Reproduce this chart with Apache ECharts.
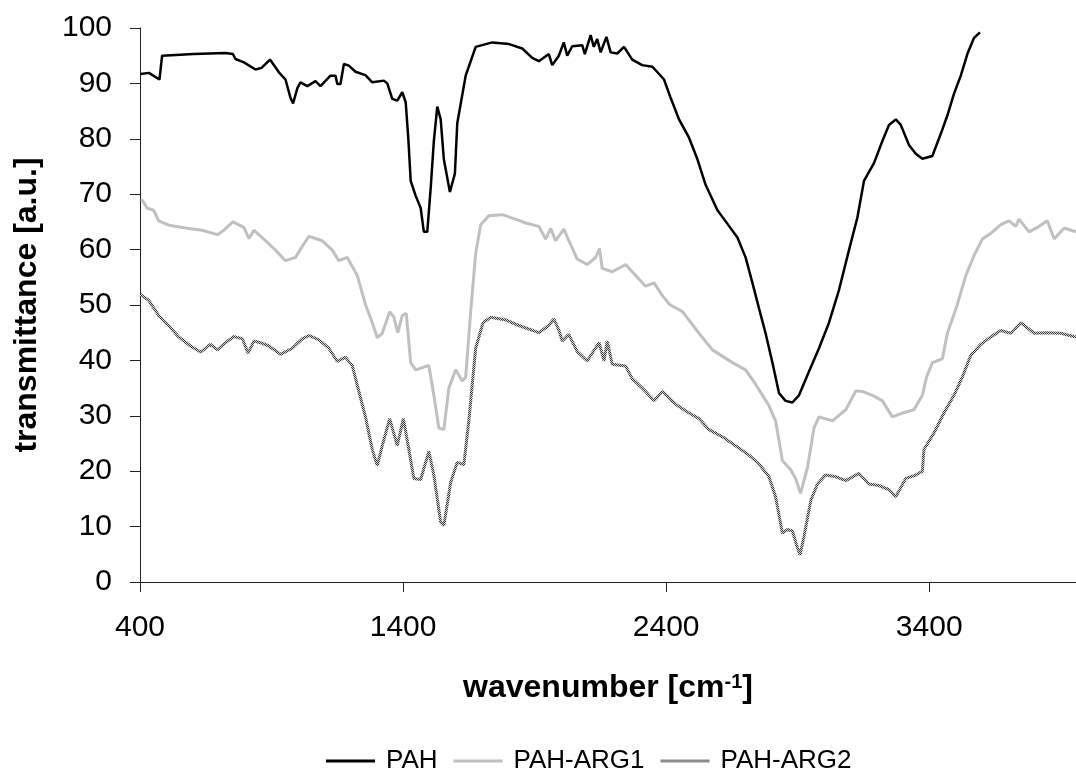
<!DOCTYPE html>
<html>
<head>
<meta charset="utf-8">
<script src="https://cdn.jsdelivr.net/npm/echarts@6/dist/echarts.min.js"></script>
<style>
html,body{margin:0;padding:0;background:#fff;}
#chart{width:1076px;height:775px;}
</style>
</head>
<body>
<div id="chart"></div>
<script>
// ---- data ----
const seriesNames = ['PAH', 'PAH-ARG1', 'PAH-ARG2'];
const xTickValues = [400, 1400, 2400, 3400];

const pahX = [402,434,474,484,604,725,753,763,795,839,862,894,928,953,972,982,998,1010,1036,1067,1086,1124,1143,1150,1162,1175,1194,1219,1257,1283,1327,1340,1359,1378,1397,1410,1420,1429,1448,1467,1479,1492,1505,1517,1530,1543,1555,1578,1597,1606,1638,1676,1739,1803,1853,1891,1916,1954,1967,1992,2011,2024,2043,2081,2091,2113,2125,2138,2151,2173,2189,2214,2240,2271,2309,2348,2392,2417,2449,2487,2519,2550,2595,2620,2671,2702,2728,2753,2778,2804,2829,2854,2880,2905,2943,2981,3019,3057,3095,3127,3152,3190,3222,3247,3273,3292,3323,3349,3374,3412,3444,3469,3494,3520,3545,3570,3593];
const pahY = [91.7,91.9,90.7,95.0,95.3,95.5,95.3,94.4,93.8,92.5,92.8,94.3,92.0,90.7,87.4,86.4,89.1,90.2,89.5,90.4,89.5,91.4,91.4,89.9,89.9,93.5,93.2,92.1,91.5,90.2,90.5,90.0,87.2,86.9,88.4,86.6,80.0,72.4,69.7,67.5,63.2,63.2,71.1,79.6,85.8,83.5,76.3,70.4,73.7,82.8,91.4,96.6,97.4,97.1,96.3,94.6,94.0,95.3,93.3,95.0,97.4,95.0,96.7,96.9,95.3,98.7,96.6,98.0,95.6,98.4,95.6,95.4,96.6,94.3,93.3,93.0,90.7,87.4,83.5,80.2,76.3,71.7,67.1,65.5,62.2,58.6,54.0,49.4,44.9,39.6,34.1,32.7,32.4,33.7,38.0,42.2,46.8,52.7,59.9,65.8,72.4,75.6,79.6,82.5,83.5,82.5,78.9,77.3,76.4,76.9,80.9,84.2,88.1,91.4,95.3,98.2,99.2];

const arg1X = [406,427,452,471,510,573,636,694,719,753,795,814,833,877,915,953,991,1017,1042,1093,1131,1156,1188,1226,1257,1283,1302,1321,1349,1365,1380,1397,1412,1429,1448,1498,1517,1536,1555,1574,1600,1625,1638,1657,1676,1695,1726,1777,1827,1866,1916,1942,1961,1980,2011,2037,2062,2100,2132,2147,2157,2195,2246,2271,2322,2354,2386,2413,2462,2525,2576,2652,2702,2740,2791,2816,2842,2873,2892,2911,2937,2962,2981,3032,3083,3121,3146,3184,3222,3260,3298,3342,3374,3390,3412,3450,3469,3507,3539,3570,3602,3633,3672,3703,3729,3741,3780,3811,3849,3875,3913,3958];
const arg1Y = [69.1,67.5,67.1,65.2,64.4,63.9,63.5,62.7,63.5,65.0,64.0,62.0,63.5,61.6,59.9,58.0,58.6,60.6,62.4,61.6,59.9,58.0,58.6,55.3,50.1,46.8,44.1,44.9,48.8,47.8,45.0,48.1,48.5,39.6,38.3,39.1,33.7,27.8,27.5,35.0,38.3,36.3,37.0,48.8,59.3,64.5,66.1,66.3,65.5,64.8,64.2,61.9,63.8,61.6,63.7,60.9,58.3,57.3,58.6,60.2,56.6,56.0,57.3,56.0,53.4,54.0,51.7,50.1,48.8,44.9,41.9,39.6,38.3,35.7,31.8,29.1,21.9,20.3,18.7,16.0,20.6,27.8,29.8,29.1,31.1,34.5,34.4,33.7,32.7,29.8,30.5,31.1,33.7,37.0,39.6,40.3,44.9,50.1,55.3,58.9,61.9,62.9,64.5,65.2,64.2,65.5,63.2,64.0,65.2,61.9,63.9,63.2];

const arg2X = [402,434,471,510,548,592,630,668,694,725,757,789,811,833,858,890,934,979,1017,1042,1080,1118,1150,1181,1207,1232,1257,1283,1302,1321,1349,1378,1401,1422,1441,1467,1498,1517,1543,1555,1581,1606,1631,1650,1676,1704,1733,1790,1840,1916,1954,1973,1992,2005,2030,2062,2100,2145,2164,2176,2195,2246,2271,2322,2354,2386,2436,2487,2525,2563,2614,2664,2715,2753,2791,2816,2842,2861,2880,2899,2909,2924,2950,2975,3006,3045,3083,3133,3171,3209,3247,3273,3311,3349,3374,3380,3418,3456,3494,3526,3558,3596,3633,3672,3710,3748,3799,3849,3900,3958];
const arg2Y = [51.9,50.8,48.1,46.2,44.2,42.6,41.5,42.9,41.9,43.2,44.3,43.9,41.3,43.5,43.2,42.6,41.1,42.2,43.9,44.5,43.7,42.2,39.8,40.6,39.0,34.4,29.8,23.9,21.0,24.6,29.5,24.6,29.5,23.9,18.7,18.5,23.6,19.3,10.8,10.2,18.0,21.6,21.2,29.1,42.2,46.8,47.8,47.3,46.3,45.0,46.3,47.5,45.5,43.5,44.7,41.6,39.9,43.2,39.9,43.5,39.3,39.0,36.7,34.4,32.7,34.4,32.1,30.5,29.5,27.5,26.2,24.6,22.9,21.3,19.0,15.4,8.8,9.5,9.2,6.2,4.9,8.2,14.7,17.7,19.3,19.0,18.3,19.6,17.7,17.4,16.7,15.4,18.7,19.3,20.0,23.9,26.9,30.5,33.7,37.0,40.9,42.9,44.2,45.4,44.9,46.8,44.9,45.0,44.9,44.2];

function zip(xs, ys) { return xs.map((x, i) => [x, ys[i]]); }

function hatch() {
  const c = document.createElement('canvas');
  c.width = 2; c.height = 2;
  const g = c.getContext('2d');
  g.fillStyle = '#d4d4d4'; g.fillRect(0, 0, 2, 2);
  g.fillStyle = '#3a3a3a'; g.fillRect(0, 0, 1, 1); g.fillRect(1, 1, 1, 1);
  return c;
}

const FONT = "'Liberation Sans', Arial, sans-serif";
const chart = echarts.init(document.getElementById('chart'), null, {renderer: 'canvas'});

chart.setOption({
  animation: false,
  backgroundColor: '#ffffff',
  textStyle: {fontFamily: FONT},
  grid: {left: 140, right: 0, top: 28, bottom: 193, containLabel: false},
  legend: {
    data: seriesNames,
    left: 321,
    top: 743,
    icon: 'rect',
    itemWidth: 49,
    itemHeight: 3,
    itemGap: 16,
    textStyle: {fontSize: 26, color: '#000', fontFamily: FONT, padding: [0, 0, 0, 6]}
  },
  xAxis: {
    type: 'value',
    min: 400,
    max: 3958,
    name: 'wavenumber [cm{sup|-1}]',
    nameLocation: 'middle',
    nameGap: 90,
    nameTextStyle: {
      fontSize: 32, fontWeight: 'bold', color: '#000', fontFamily: FONT,
      rich: {sup: {fontSize: 20, fontWeight: 'bold', color: '#000', fontFamily: FONT, verticalAlign: 'top'}}
    },
    axisLine: {show: true, onZero: false, lineStyle: {color: '#222', width: 1}},
    axisTick: {show: true, length: 10, customValues: xTickValues, lineStyle: {color: '#222'}},
    axisLabel: {fontSize: 30, color: '#000', margin: 31, fontFamily: FONT, customValues: xTickValues,
      formatter: function (v) { return String(v); }},
    splitLine: {show: false}
  },
  yAxis: {
    type: 'value',
    min: 0,
    max: 100,
    interval: 10,
    name: 'transmittance [a.u.]',
    nameLocation: 'middle',
    nameGap: 97,
    nameTextStyle: {fontSize: 32, fontWeight: 'bold', color: '#000', fontFamily: FONT},
    axisLine: {show: true, lineStyle: {color: '#222', width: 1}},
    axisTick: {show: true, length: 10, lineStyle: {color: '#222'}},
    axisLabel: {fontSize: 30, color: '#000', margin: 28, fontFamily: FONT,
      formatter: function (v) { return String(v); }},
    splitLine: {show: false}
  },
  series: [
    {
      name: seriesNames[0], type: 'line', symbol: 'none', z: 4,
      lineStyle: {color: '#000', width: 2.5}, itemStyle: {color: '#000'},
      data: zip(pahX, pahY)
    },
    {
      name: seriesNames[1], type: 'line', symbol: 'none', z: 3,
      lineStyle: {color: '#c0c0c0', width: 3}, itemStyle: {color: '#c0c0c0'},
      data: zip(arg1X, arg1Y)
    },
    {
      name: seriesNames[2], type: 'line', symbol: 'none', z: 2,
      lineStyle: {color: {image: hatch(), repeat: 'repeat'}, width: 3},
      itemStyle: {color: '#8c8c8c'},
      data: zip(arg2X, arg2Y)
    }
  ]
});
</script>
</body>
</html>
